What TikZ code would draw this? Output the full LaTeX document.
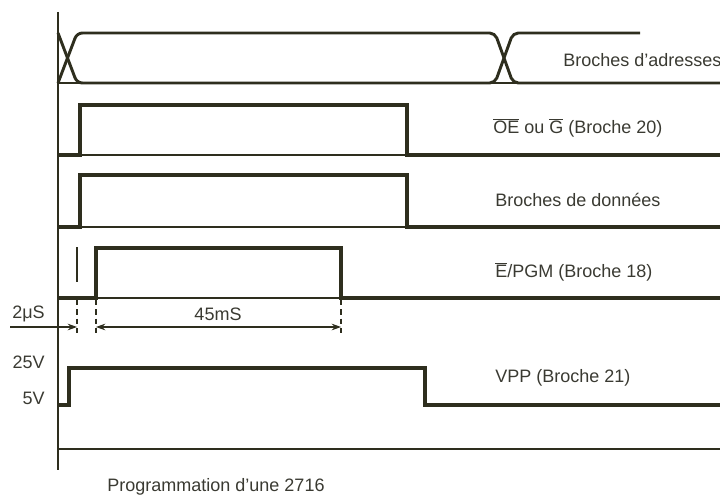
\documentclass[tikz,border=0pt]{standalone}
\usepackage{fontspec}
\setmainfont{Liberation Sans}
\usetikzlibrary{arrows.meta}
\definecolor{ink}{RGB}{46,46,30}
\definecolor{txt}{RGB}{58,58,50}
\begin{document}
\begin{tikzpicture}[x=0.75pt,y=-0.75pt,
  sig/.style={draw=ink,line width=2.6pt,line join=miter},
  xsig/.style={draw=ink,line width=2.2pt,rounded corners=4pt},
  base/.style={draw=ink,line width=0.8pt},
  axis/.style={draw=ink,line width=1pt},
  dim/.style={draw=ink,line width=0.8pt},
  dashv/.style={draw=ink,line width=0.9pt,dash pattern=on 4pt off 3pt},
  lbl/.style={text=txt,font=\fontsize{13.5}{15}\selectfont,inner sep=0pt,anchor=west},
  vlbl/.style={text=txt,font=\fontsize{13.5}{15}\selectfont,inner sep=0pt,anchor=east},
  tip/.style={-{Stealth[length=7pt,width=5pt]}}
]
\useasboundingbox (0,0) rectangle (720,495);

% axis
\coordinate (axT) at (58,12);
\coordinate (axB) at (58,470);
\draw[axis] (axT) -- (axB);

% row 1 : address pins
\draw[base] (58,83) -- (720,83);
\draw[xsig] (58,83) -- (77,33) -- (495,33) -- (513,83) -- (720,83);
\draw[xsig] (58,33) -- (77,83) -- (495,83) -- (513,33) -- (640,33);
\node[lbl] (addr) at (563,60) {Broches d'adresses};

% row 2 : OE / G
\draw[base] (58,155) -- (720,155);
\draw[sig] (58,155) -- (80,155) -- (80,105) -- (407,105) -- (407,155) -- (720,155);
\node[lbl] (oe) at (493,128) {\(\overline{\mbox{OE}}\) ou \(\overline{\mbox{G}}\) (Broche 20)};

% row 3 : data pins
\draw[base] (58,227) -- (720,227);
\draw[sig] (58,227) -- (80,227) -- (80,175) -- (407,175) -- (407,227) -- (720,227);
\node[lbl] (data) at (495,200) {Broches de données};

% row 4 : E/PGM
\draw[base] (58,298) -- (720,298);
\draw[sig] (58,298) -- (96,298) -- (96,248) -- (341,248) -- (341,298) -- (720,298);
\draw[base] (77,247) -- (77,282);
\node[lbl] (pgm) at (495,272) {\(\overline{\mbox{E}}\)/PGM (Broche 18)};

% timing dimensions
\coordinate (d0) at (77,300);  \coordinate (d0b) at (77,337);
\coordinate (d1) at (96,300);  \coordinate (d1b) at (96,337);
\coordinate (d2) at (341,300); \coordinate (d2b) at (341,337);
\draw[dashv] (d0) -- (d0b);
\draw[dashv] (d1) -- (d1b);
\draw[dashv] (d2) -- (d2b);
\coordinate (l0) at (10,327);
\coordinate (a0) at (77,327);
\coordinate (a1) at (96,327);
\coordinate (a2) at (341,327);
\draw[dim,tip] (l0) -- (a0);
\draw[dim,{Stealth[length=7pt,width=5pt]}-{Stealth[length=7pt,width=5pt]}] (a1) -- (a2);
\node[vlbl] (t2us) at (45,314) {2μS};
\node[text=txt,font=\fontsize{13.5}{15}\selectfont,inner sep=0pt] (t45) at (218,314) {45mS};

% row 5 : VPP
\draw[sig] (58,405) -- (69,405) -- (69,368) -- (425,368) -- (425,405) -- (720,405);
\node[vlbl] (v25) at (45,362) {25V};
\node[vlbl] (v5) at (45,398) {5V};
\node[lbl] (vpp) at (495,378) {VPP (Broche 21)};

% bottom line
\draw[base] (58,449) -- (720,449);

% caption
\node[text=txt,font=\fontsize{13.5}{15}\selectfont,inner sep=0pt] (cap) at (216,487) {Programmation d'une 2716};
\end{tikzpicture}
\end{document}
